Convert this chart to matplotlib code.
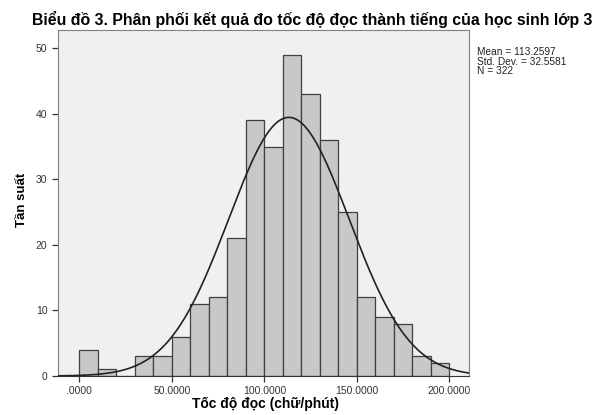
import numpy as np
import matplotlib.pyplot as plt

plt.rcParams['font.family'] = ['Liberation Sans', 'DejaVu Sans']

# histogram data
bin_edges = list(range(0, 210, 10))
counts = [4, 1, 0, 3, 3, 6, 11, 12, 21, 39, 35, 49, 43, 36, 25, 12, 9, 8, 3, 2]
mean = 113.2597
std = 32.5581
n = 322
xticks = [0, 50, 100, 150, 200]
xtick_labels = ['.0000', '50.0000', '100.0000', '150.0000', '200.0000']
yticks = [0, 10, 20, 30, 40, 50]

fig = plt.figure(figsize=(5.94, 4.15), dpi=100)
ax = fig.add_axes([0.0976, 0.094, 0.692, 0.834])
ax.set_facecolor('#f0f0f0')

widths = np.diff(bin_edges)
ax.bar(bin_edges[:-1], counts, width=widths, align='edge', color='#c8c8c8',
       edgecolor='#404040', linewidth=0.9, zorder=2)

# normal curve scaled to counts
xs = np.linspace(-12, 211, 400)
ys = n * 10 * np.exp(-0.5 * ((xs - mean) / std) ** 2) / (std * np.sqrt(2 * np.pi))
ax.plot(xs, ys, color='#222222', linewidth=1.2, zorder=3)

ax.set_xlim(-11.5, 210.6)
ax.set_ylim(0, 52.8)
ax.set_xticks(xticks)
ax.set_xticklabels(xtick_labels)
ax.set_yticks(yticks)
ax.tick_params(labelsize=7.5, colors='#333333', length=4, width=0.9, direction='out')
for s in ['top', 'right', 'left']:
    ax.spines[s].set_color('#808080')
ax.spines['bottom'].set_color('#333333')

fig.text(265 / 594, 1 - 404 / 415, 'Tốc độ đọc (chữ/phút)', ha='center', va='center',
         fontsize=10, fontweight='bold')
fig.text(22 / 594, 1 - 200 / 415, 'Tần suất', ha='center', va='center', rotation=90,
         fontsize=9.5, fontweight='bold')

fig.text(312 / 594, 1 - 20 / 415, 'Biểu đồ 3. Phân phối kết quả đo tốc độ đọc thành tiếng của học sinh lớp 3',
         ha='center', va='center', fontsize=11.4, fontweight='bold')
fig.text(477 / 594, 1 - 47 / 415, 'Mean = %.4f\nStd. Dev. = %.4f\nN = %d' % (mean, std, n),
         ha='left', va='top', fontsize=7.3, linespacing=0.95, color='#222222')

plt.savefig('out.png', dpi=100)
